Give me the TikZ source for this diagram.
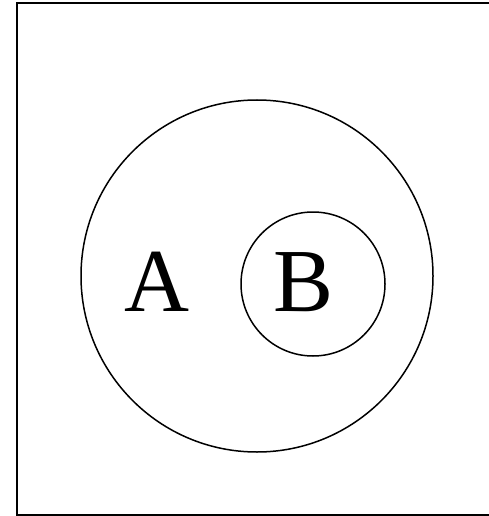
\documentclass[tikz,border=0pt]{standalone}
\usepackage{fontspec}
\setmainfont{Liberation Serif}
\begin{document}
\begin{tikzpicture}[x=1pt,y=-1pt,
  ring/.style={draw,line width=1.5pt},
  lbl/.style={font=\fontsize{90}{90}\selectfont,inner sep=0pt,anchor=base}]
\useasboundingbox (0,0) rectangle (489,516);
\begin{scope}
\clip (0,0) rectangle (489,516);
\draw[line width=2pt] (16.5,3.5) rectangle (496,515);
\end{scope}
\node[ring,circle,minimum size=352pt,inner sep=0pt] (outer) at (257,276) {};
\node[ring,circle,minimum size=144pt,inner sep=0pt] (inner) at (313,284) {};
\node[lbl] (a) at (157,311) {A};
\node[lbl] (b) at (304,311) {B};
\end{tikzpicture}
\end{document}
